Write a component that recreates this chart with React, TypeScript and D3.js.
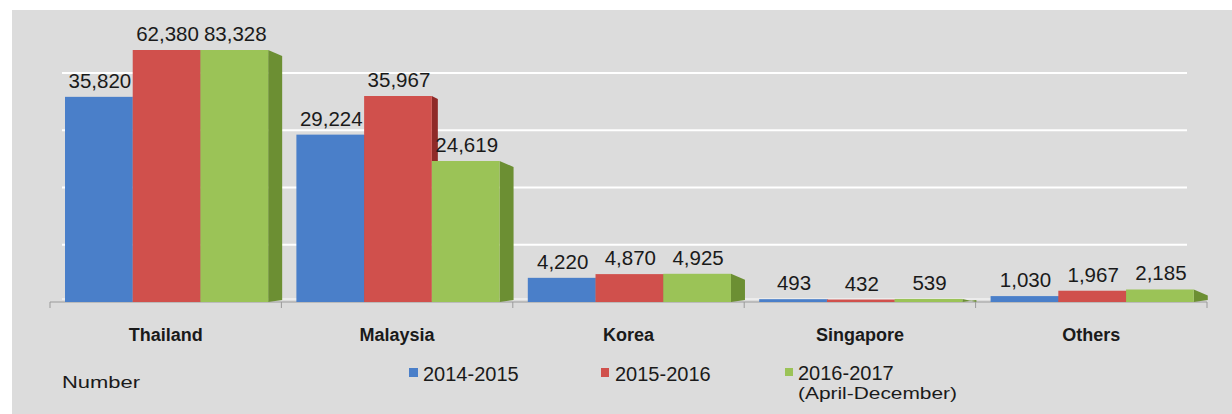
import React from "react";
import * as d3 from "d3";

const categories = ["Thailand", "Malaysia", "Korea", "Singapore", "Others"];
const seriesNames = ["2014-2015", "2015-2016", "2016-2017"];
const s2014 = [35820, 29224, 4220, 493, 1030];
const s2015 = [62380, 35967, 4870, 432, 1967];
const s2016 = [83328, 24619, 4925, 539, 2185];
const gridTicks = [10000, 20000, 30000, 40000];

const series = [s2014, s2015, s2016];
const colors = ["#4a7fc9", "#d0504c", "#9bc357"];
const sideColors = ["#2d5896", "#8f2a28", "#6c8f33"];

const W = 1232;
const H = 414;
const axisY = 302;
const topY = 50;
const FONT = "'Liberation Sans', Arial, sans-serif";

export default function App() {
  const x0 = d3.scaleBand<string>().domain(categories).range([50, 1207]).padding(0);
  const bw = x0.bandwidth();
  const x1 = d3.scaleBand<string>().domain(seriesNames).range([15, 15 + bw * 0.878]).padding(0);
  const y = d3.scaleLinear().domain([0, 44000]).range([axisY, topY]).clamp(true);
  const fmt = d3.format(",");

  return (
    <svg width={W} height={H} style={{ position: "absolute", left: 0, top: 0 }}>
      <rect x={0} y={0} width={W} height={H} fill="#ffffff" />
      <rect x={12} y={10} width={W - 12} height={H - 10} fill="#dcdcdc" />
      {gridTicks.map((t) => (
        <line key={t} x1={62} x2={1187} y1={y(t)} y2={y(t)} stroke="#ffffff" strokeWidth={2} />
      ))}
      <line x1={62} x2={1187} y1={axisY - 3} y2={axisY - 3} stroke="#f2f2f2" strokeWidth={1.5} />
      <line x1={50} x2={1207} y1={axisY} y2={axisY} stroke="#9a9a9a" strokeWidth={1.2} />
      {categories.map((c) => (
        <line key={"t" + c} x1={x0(c)!} x2={x0(c)!} y1={axisY} y2={axisY + 6} stroke="#9a9a9a" />
      ))}
      <line x1={1207} x2={1207} y1={axisY} y2={axisY + 6} stroke="#9a9a9a" />
      {categories.map((c, ci) => (
        <g key={c} transform={`translate(${x0(c)},0)`}>
          {series.map((s, si) => {
            const bx = x1(seriesNames[si])!;
            const w = x1.bandwidth();
            const top = y(s[ci]);
            const right = bx + w;
            const depth = si === 2 ? 14 : 6;
            const sideTop = Math.min(top + (si === 2 ? 6 : 3), axisY);
            return (
              <g key={si}>
                <polygon
                  points={`${right},${top} ${right + depth},${sideTop} ${right + depth},${axisY - 2} ${right},${axisY}`}
                  fill={sideColors[si]}
                />
                <rect x={bx} y={top} width={w} height={axisY - top} fill={colors[si]} />
              </g>
            );
          })}
        </g>
      ))}
      {categories.map((c, ci) => (
        <g key={"l" + c} transform={`translate(${x0(c)},0)`}>
          {series.map((s, si) => {
            const bx = x1(seriesNames[si])!;
            const w = x1.bandwidth();
            return (
              <text
                key={si}
                x={bx + w / 2 + 1}
                y={y(s[ci]) - 9}
                textAnchor="middle"
                fontFamily={FONT}
                fontSize={20.5}
                fill="#1a1a1a"
              >
                {fmt(s[ci])}
              </text>
            );
          })}
        </g>
      ))}
      {categories.map((c) => (
        <text
          key={"c" + c}
          x={x0(c)! + bw / 2}
          y={341}
          textAnchor="middle"
          fontFamily={FONT}
          fontWeight="bold"
          fontSize={18}
          fill="#1a1a1a"
        >
          {c}
        </text>
      ))}
      <text x={62} y={388} fontFamily={FONT} fontSize={17} textLength={78} lengthAdjust="spacingAndGlyphs" fill="#1a1a1a">
        Number
      </text>
      <rect x={409} y={368} width={9} height={9} fill={colors[0]} />
      <text x={423} y={381} fontFamily={FONT} fontSize={20} fill="#1a1a1a">
        {seriesNames[0]}
      </text>
      <rect x={601} y={368} width={8} height={9} fill={colors[1]} />
      <text x={615} y={381} fontFamily={FONT} fontSize={20} fill="#1a1a1a">
        {seriesNames[1]}
      </text>
      <rect x={785} y={368} width={8} height={8} fill={colors[2]} />
      <text x={798} y={380} fontFamily={FONT} fontSize={20} fill="#1a1a1a">
        {seriesNames[2]}
      </text>
      <text x={798} y={399} fontFamily={FONT} fontSize={16} textLength={159} lengthAdjust="spacingAndGlyphs" fill="#1a1a1a">
        (April-December)
      </text>
    </svg>
  );
}
